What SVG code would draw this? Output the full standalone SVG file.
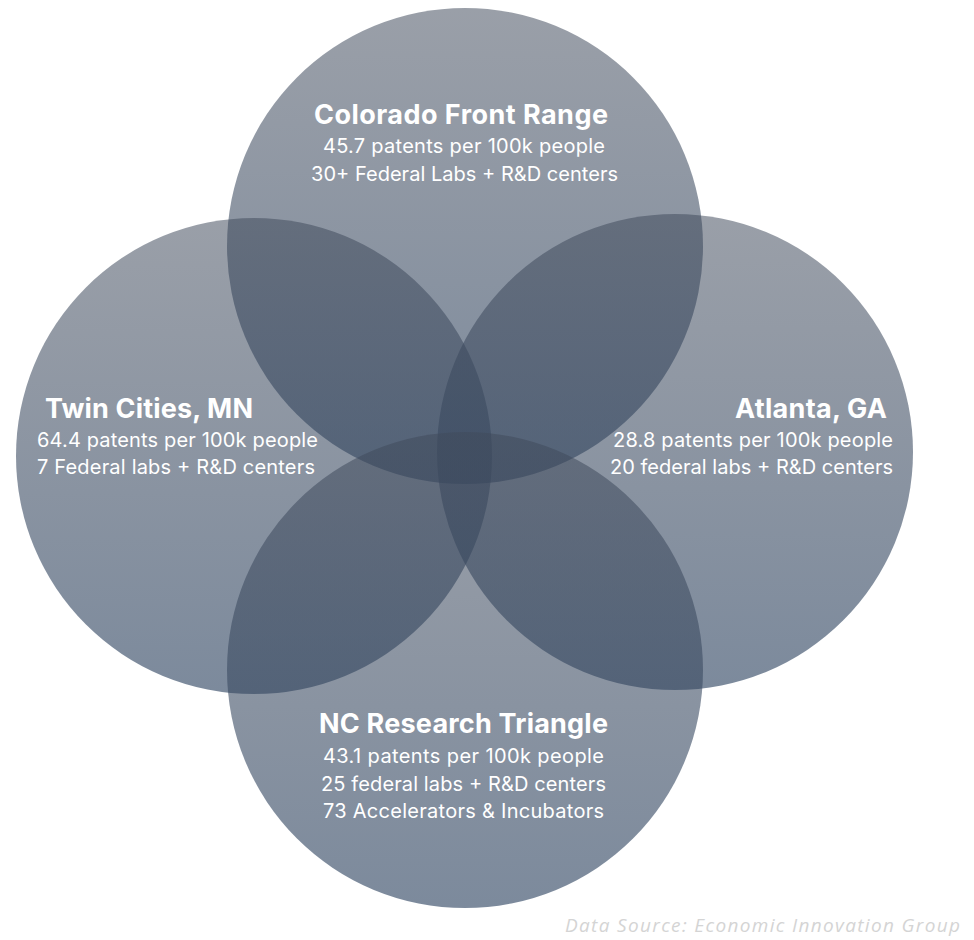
<svg xmlns="http://www.w3.org/2000/svg" width="974" height="940" viewBox="0 0 974 940">
<defs>
<linearGradient id="g" x1="0" y1="0" x2="0" y2="1">
<stop offset="0" stop-color="#404a5b" stop-opacity="0.53"/>
<stop offset="1" stop-color="#2f4562" stop-opacity="0.63"/>
</linearGradient>
<style>
.c{fill:url(#g)}
.t{font-family:Inter,"Liberation Sans",sans-serif;font-weight:700;font-size:27px;fill:#ffffff}
.s{font-family:Inter,"Liberation Sans",sans-serif;font-weight:400;font-size:20px;fill:#ffffff}
.src{font-family:"Open Sans","Liberation Sans",sans-serif;font-style:italic;font-size:19px;fill:#d4d4d4}
</style>
</defs>
<rect width="974" height="940" fill="#ffffff"/>
<g id="circles">
<circle id="c-top" class="c" cx="465" cy="246" r="238"/>
<circle id="c-left" class="c" cx="254" cy="456" r="238"/>
<circle id="c-right" class="c" cx="675" cy="452" r="238"/>
<circle id="c-bottom" class="c" cx="465" cy="670" r="238"/>
</g>
<g id="connectors"></g>
<g id="node-colorado">
<text class="t" x="314" y="124" textLength="294">Colorado Front Range</text>
<text class="s" x="323" y="153" textLength="282">45.7 patents per 100k people</text>
<text class="s" x="311" y="181" textLength="307">30+ Federal Labs + R&amp;D centers</text>
</g>
<g id="node-twin">
<text class="t" x="45" y="418" textLength="208">Twin Cities, MN</text>
<text class="s" x="37" y="447" textLength="281">64.4 patents per 100k people</text>
<text class="s" x="37" y="474" textLength="278">7 Federal labs + R&amp;D centers</text>
</g>
<g id="node-atlanta">
<text class="t" x="735" y="418" textLength="152">Atlanta, GA</text>
<text class="s" x="613" y="447" textLength="280">28.8 patents per 100k people</text>
<text class="s" x="610" y="474" textLength="283">20 federal labs + R&amp;D centers</text>
</g>
<g id="node-nc">
<text class="t" x="319" y="733" textLength="289">NC Research Triangle</text>
<text class="s" x="323" y="763" textLength="281">43.1 patents per 100k people</text>
<text class="s" x="321" y="791" textLength="285">25 federal labs + R&amp;D centers</text>
<text class="s" x="323" y="818" textLength="281">73 Accelerators &amp; Incubators</text>
</g>
<text class="src" x="565" y="932" textLength="395">Data Source: Economic Innovation Group</text>
</svg>
